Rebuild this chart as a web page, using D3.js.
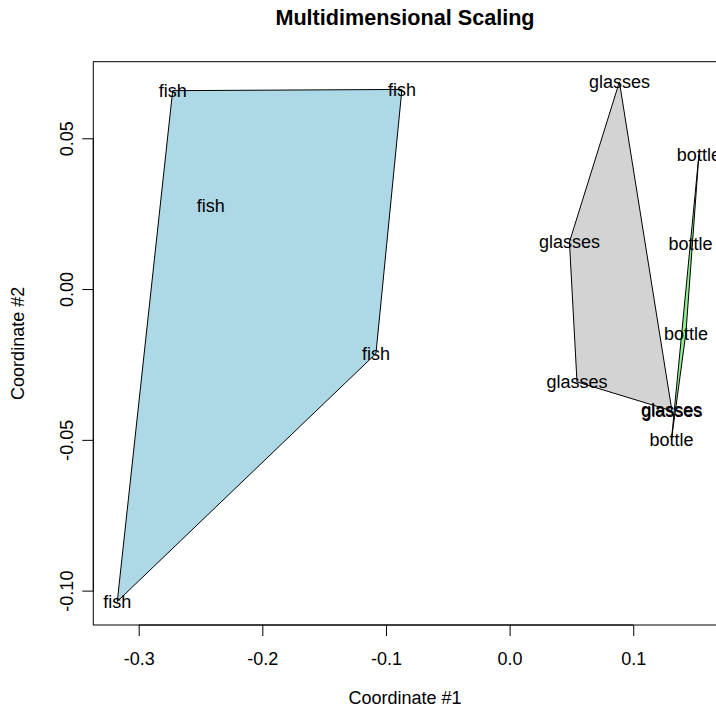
<!DOCTYPE html>
<html>
<head>
<meta charset="utf-8">
<script src="https://cdn.jsdelivr.net/npm/d3@7"></script>
<style>
  body { margin: 0; background: #fff; }
  text { font-family: "Liberation Sans", Arial, Helvetica, sans-serif; }
</style>
</head>
<body>
<svg width="716" height="709"></svg>
<script>
var labels = ['fish','fish','fish','fish','fish',
              'glasses','glasses','glasses','glasses','glasses',
              'bottle','bottle','bottle','bottle'];
var coord1 = [-0.2725,-0.0871,-0.2417,-0.1081,-0.3173,
              0.0888,0.0484,0.0545,0.1309,0.1313,
              0.1531,0.1463,0.1426,0.1309];
var coord2 = [0.0658,0.0662,0.0276,-0.0214,-0.1036,
              0.0687,0.0156,-0.0308,-0.0401,-0.0404,
              0.0445,0.0150,-0.0146,-0.0500];
var groups = ['fish','glasses','bottle'];
var xTicks = [-0.3,-0.2,-0.1,0.0,0.1];
var yTicks = [0.05,0.00,-0.05,-0.10];

var svg = d3.select('svg');
var width = +svg.attr('width');
var height = +svg.attr('height');
var margin = {left:93.3, top:61.7, right:-0.7, bottom:84};
var innerWidth = width - margin.left - margin.right;
var innerHeight = height - margin.top - margin.bottom;

var fill = d3.scaleOrdinal().domain(groups).range(['#ADD8E6','#D3D3D3','#90EE90']);
var fmt = f => (d => d3.format(f)(d).replace('−','-'));

var xscale = d3.scaleLinear().domain([-0.3367,0.1675]).range([0,innerWidth]);
var yscale = d3.scaleLinear().domain([-0.1114,0.0754]).range([innerHeight,0]);

var data = labels.map((l,i) => ({label:l, x:coord1[i], y:coord2[i]}));

var g = svg.append('g').attr('transform',`translate(${margin.left},${margin.top})`);

g.append('clipPath').attr('id','plotclip')
  .append('rect').attr('width',innerWidth).attr('height',innerHeight);

var plot = g.append('g').attr('clip-path','url(#plotclip)');

// convex hull per group, then the labels on top
groups.forEach(grp => {
  var pts = data.filter(d => d.label === grp).map(d => [xscale(d.x), yscale(d.y)]);
  var hull = d3.polygonHull(pts);
  plot.append('path')
    .attr('d','M' + hull.join('L') + 'Z')
    .attr('fill',fill(grp))
    .attr('stroke','#000')
    .attr('stroke-width',1);
});

plot.selectAll('text.lab').data(data)
  .enter().append('text')
  .attr('class','lab')
  .attr('x',d => xscale(d.x))
  .attr('y',d => yscale(d.y))
  .attr('dy','0.36em')
  .attr('text-anchor','middle')
  .attr('font-size',18)
  .text(d => d.label);

g.append('rect')
  .attr('width',innerWidth).attr('height',innerHeight)
  .attr('fill','none').attr('stroke','#000').attr('stroke-width',1);

var xaxis = d3.axisBottom(xscale).tickValues(xTicks).tickSize(11).tickPadding(0)
  .tickFormat(fmt('.1f')).tickSizeOuter(0);
var yaxis = d3.axisLeft(yscale).tickValues(yTicks).tickSize(11).tickPadding(0)
  .tickFormat(fmt('.2f')).tickSizeOuter(0);

var xg = g.append('g').attr('transform',`translate(0,${innerHeight})`).call(xaxis);
xg.select('.domain').attr('d',`M${xscale(xTicks[0])},0H${xscale(xTicks[xTicks.length-1])}`);
xg.selectAll('text').attr('y',40).attr('dy',0).attr('font-size',18)
  .attr('font-family','"Liberation Sans", Arial, sans-serif').attr('fill','#000');

var yg = g.append('g').call(yaxis);
yg.select('.domain').attr('d',`M0,${yscale(yTicks[0])}V${yscale(yTicks[yTicks.length-1])}`);
yg.selectAll('text')
  .attr('x',0).attr('y',0).attr('dy',0)
  .attr('text-anchor','middle')
  .attr('transform','translate(-20,0) rotate(-90)')
  .attr('font-size',18)
  .attr('font-family','"Liberation Sans", Arial, sans-serif').attr('fill','#000');

svg.selectAll('.tick line').attr('stroke','#000');
svg.selectAll('.domain').attr('stroke','#000');

svg.append('text')
  .attr('x',margin.left + innerWidth/2).attr('y',25)
  .attr('text-anchor','middle').attr('font-size',21.6).attr('font-weight','bold')
  .text('Multidimensional Scaling');

svg.append('text')
  .attr('x',margin.left + innerWidth/2).attr('y',704)
  .attr('text-anchor','middle').attr('font-size',18)
  .text('Coordinate #1');

svg.append('text')
  .attr('transform',`translate(24,${margin.top + innerHeight/2}) rotate(-90)`)
  .attr('text-anchor','middle').attr('font-size',18)
  .text('Coordinate #2');
</script>
</body>
</html>
